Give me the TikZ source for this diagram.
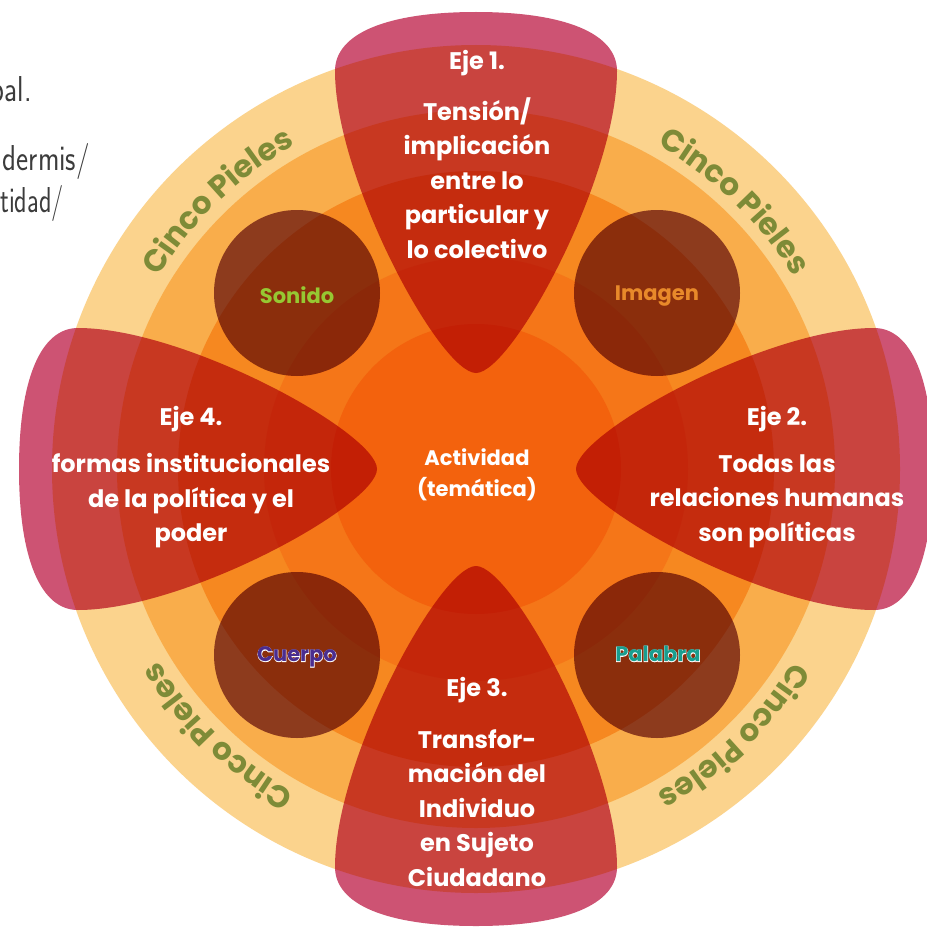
\documentclass[tikz,border=0pt]{standalone}
\usepackage{fontspec}
\usetikzlibrary{decorations.text,calc}
\newfontfamily\ejefont{Poppins}
\definecolor{ringA}{RGB}{251,211,141}
\definecolor{ringB}{RGB}{249,173,75}
\definecolor{ringC}{RGB}{246,136,32}
\definecolor{ringD}{RGB}{245,118,24}
\definecolor{ringE}{RGB}{243,98,13}
\definecolor{tearc}{RGB}{205,83,115}
\definecolor{brownc}{RGB}{145,87,100}
\definecolor{cpgreen}{RGB}{126,139,55}
\definecolor{sonidoc}{RGB}{150,200,50}
\definecolor{imagenc}{RGB}{232,137,42}
\definecolor{cuerpoc}{RGB}{75,45,143}
\definecolor{palabrac}{RGB}{25,158,143}
\definecolor{fragc}{RGB}{60,60,60}
\newcommand\cpfont{\ejefont\bfseries\fontsize{31}{34}\selectfont\color{cpgreen}}
\tikzset{
  ejet/.style={text=white, font=\ejefont\bfseries\fontsize{24}{34.5}\selectfont, inner sep=0pt},
  ejeb/.style={ejet, align=center},
  lbl/.style={font=\ejefont\bfseries\fontsize{21}{24}\selectfont, inner sep=0pt},
  lblout/.style={font=\ejefont\bfseries\fontsize{21}{24}\selectfont\addfontfeature{FakeBold=4}, inner sep=0pt, text=white},
  tear/.style={fill=tearc, blend mode=multiply},
  bcirc/.style={fill=brownc, blend mode=multiply},
  frag/.style={font=\sffamily\fontsize{36}{40}\selectfont, text=fragc, anchor=base east, inner sep=0pt},
  cinco/.style={decorate, decoration={text along path, text={|\cpfont|Cinco Pieles}, text align=center}}
}
\begin{document}
\begin{tikzpicture}[x=1pt,y=-1pt]
\useasboundingbox (0,0) rectangle (926,931);
\fill[white] (0,0) rectangle (926,931);
\coordinate (c) at (476,469);
% rings
\fill[ringA] (c) circle[radius=424];
\fill[ringB] (c) circle[radius=359];
\fill[ringC] (c) circle[radius=298];
\fill[ringD] (c) circle[radius=212];
\fill[ringE] (c) circle[radius=145];
% cut text at left
\node[frag] (f1) at (32,102) {\scalebox{0.8}[1]{pal.}};
\node[frag] (f2) at (90,170) {\scalebox{0.8}[1]{dermis/}};
\node[frag] (f3) at (64,212) {\scalebox{0.72}[1]{tidad/}};
% Cinco Pieles
\path[cinco] ($(c)+(186:371)$) arc[start angle=186, end angle=266, radius=371];
\path[cinco] ($(c)+(274:371)$) arc[start angle=274, end angle=354, radius=371];
\path[cinco] ($(c)+(6:371)$) arc[start angle=6, end angle=86, radius=371];
\path[cinco] ($(c)+(94:371)$) arc[start angle=94, end angle=174, radius=371];
% brown circles
\begin{scope}[blend mode=multiply]
\fill[brownc] (297,293) circle[radius=83];
\fill[brownc] (657,293) circle[radius=83];
\fill[brownc] (297,655) circle[radius=83];
\fill[brownc] (657,655) circle[radius=83];
\end{scope}
% teardrops
\foreach \r/\tl in {0/96,90/99,180/97,270/100} {
  \begin{scope}[shift={(c)}, rotate=\r, blend mode=multiply]
    \fill[tearc] (0,-\tl) .. controls (-36,-\tl) and (-141,-290) .. (-141,-398)
      .. controls (-141,-436) and (-88,-457) .. (0,-457)
      .. controls (88,-457) and (141,-436) .. (141,-398)
      .. controls (141,-290) and (36,-\tl) .. (0,-\tl) -- cycle;
  \end{scope}
}
% texts
\node[ejet] (e1t) at (477,63) {Eje 1.};
\node[ejeb] (e1b) at (477,178) {Tensión/\\implicación\\entre lo\\particular y\\lo colectivo};
\node[ejet] (e2t) at (777,419) {Eje 2.};
\node[ejeb] (e2b) at (777,501) {Todas las\\relaciones humanas\\son políticas};
\node[ejet] (e3t) at (477,690) {Eje 3.};
\node[ejeb] (e3b) at (477,808) {Transfor-\\mación del\\Individuo\\en Sujeto\\Ciudadano};
\node[ejet] (e4t) at (191,419) {Eje 4.};
\node[ejeb] (e4b) at (191,501) {formas institucionales\\de la política y el\\poder};
\node[ejeb, font=\ejefont\bfseries\fontsize{21}{31}\selectfont] (act) at (477,475) {Actividad\\(temática)};
% circle labels
\node[lbl, text=sonidoc] (son) at (297,295) {Sonido};
\node[lbl, text=imagenc] (ima) at (657,296) {Imagen};
\node[lblout] (cuo) at (297,657) {Cuerpo};
\node[lbl, text=cuerpoc] (cue) at (297,657) {Cuerpo};
\node[lblout] (pao) at (658,654) {Palabra};
\node[lbl, text=palabrac] (pal) at (658,654) {Palabra};
\end{tikzpicture}
\end{document}
